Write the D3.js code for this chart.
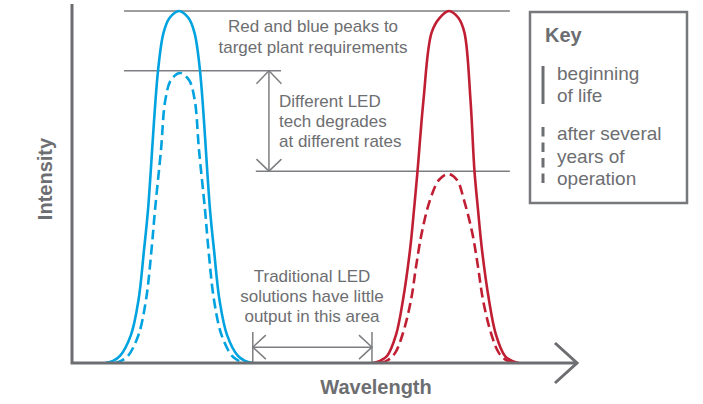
<!DOCTYPE html>
<html>
<head>
<meta charset="utf-8">
<script src="https://cdn.jsdelivr.net/npm/d3@7"></script>
<style>
  body { margin: 0; background: #fff; }
  text { font-family: "Liberation Sans", Arial, sans-serif; fill: #6d6e71; }
</style>
</head>
<body>
<svg id="chart" width="703" height="404"></svg>
<script>
// spectrum curves: [wavelength (arbitrary units), relative intensity]
var blueSolid = [[6.63,0],[8.12,0.6],[9.50,2.0],[11.68,8.0],[13.17,17.9],[14.26,32.1],[15.05,43.5],[17.03,83.0],[18.12,93.8],[19.31,98.0],[21.19,100],
                 [23.07,98.0],[24.26,93.8],[25.35,83.0],[27.33,43.5],[28.12,32.1],[29.21,17.9],[30.69,8.0],[32.87,2.0],[34.26,0.6],[35.74,0]];
var blueDashed = [[8.51,0],[9.70,0.6],[11.09,2.0],[13.17,8.0],[14.65,17.9],[15.74,32.1],[16.44,43.5],[17.62,60.5],[18.48,74.7],[19.60,80.4],[21.39,82.4],
                  [23.17,80.4],[24.30,74.7],[25.15,60.5],[26.34,43.5],[27.03,32.1],[28.12,17.9],[29.60,8.0],[31.68,2.0],[33.07,0.6],[34.26,0]];
var redSolid = [[59.60,0],[60.99,0.6],[62.38,2.0],[64.16,8.0],[65.54,17.9],[66.93,32.1],[67.72,43.5],[68.42,54.5],[69.60,74.7],[71.19,93.8],[72.77,98.0],[74.65,100],
                [76.53,98.0],[77.72,93.8],[78.91,74.7],[79.70,54.5],[80.40,43.5],[81.19,32.1],[82.57,17.9],[83.96,8.0],[85.74,2.0],[87.13,0.6],[88.51,0]];
var redDashed = [[61.19,0],[62.57,0.85],[63.96,2.8],[65.54,8.5],[67.13,17.9],[68.12,27.3],[69.25,36.9],[70.89,46.3],[72.67,52.0],[74.46,53.7],
                 [76.24,52.0],[77.62,46.3],[79.27,36.9],[80.40,27.3],[81.39,17.9],[82.97,8.5],[84.55,2.8],[85.94,0.85],[87.33,0]];

// guide lines: intensity level, wavelength from, wavelength to
var guideLines = [[100, 10.3, 86.7], [83.0, 10.3, 41.4], [54.5, 36.4, 86.7]];
var degradeArrow = [39.0, 83.0, 54.5];      // wavelength, top, bottom
var gapArrow = [35.8, 59.4, 4.5, 8.8];      // from, to, arrow level, tick height

var noteTop = ["Red and blue peaks to", "target plant requirements"];
var noteMid = ["Different LED", "tech degrades", "at different rates"];
var noteLow = ["Traditional LED", "solutions have little", "output in this area"];
var keyLabels = [["beginning", "of life"], ["after several", "years of", "operation"]];

var BLUE = "#00a3e0", RED = "#c01f33", GREY = "#6d6e71", LGREY = "#7d7e81";

var svg = d3.select("#chart");
var x = d3.scaleLinear().domain([0, 100]).range([72, 577]);
var y = d3.scaleLinear().domain([0, 100]).range([363, 11]);

var line = d3.line()
    .x(function(d){ return x(d[0]); })
    .y(function(d){ return y(d[1]); })
    .curve(d3.curveCatmullRom.alpha(0.5));

// guide lines
svg.selectAll(".guide")
    .data(guideLines)
    .enter().append("line")
    .attr("class", "guide")
    .attr("x1", function(d){ return x(d[1]); })
    .attr("x2", function(d){ return x(d[2]); })
    .attr("y1", function(d){ return y(d[0]); })
    .attr("y2", function(d){ return y(d[0]); })
    .attr("stroke", LGREY)
    .attr("stroke-width", 1.5);

function thin(g, d){
    g.append("path").attr("d", d)
        .attr("fill", "none").attr("stroke", LGREY).attr("stroke-width", 1.5);
}

var ann = svg.append("g");
var ax = x(degradeArrow[0]), ay1 = y(degradeArrow[1]), ay2 = y(degradeArrow[2]);
thin(ann, "M" + ax + "," + ay1 + "V" + ay2);
thin(ann, "M" + (ax - 12.5) + "," + (ay1 + 13) + "L" + ax + "," + ay1 + "L" + (ax + 12.5) + "," + (ay1 + 13));
thin(ann, "M" + (ax - 12.5) + "," + (ay2 - 12) + "L" + ax + "," + ay2 + "L" + (ax + 12.5) + "," + (ay2 - 12));

var gx1 = x(gapArrow[0]), gx2 = x(gapArrow[1]), gy = y(gapArrow[2]), gt = y(gapArrow[3]);
thin(ann, "M" + gx1 + "," + gy + "H" + gx2);
thin(ann, "M" + gx1 + "," + gt + "V" + y(0));
thin(ann, "M" + gx2 + "," + gt + "V" + y(0));
thin(ann, "M" + (gx1 + 13) + "," + (gy - 12) + "L" + gx1 + "," + gy + "L" + (gx1 + 13) + "," + (gy + 12));
thin(ann, "M" + (gx2 - 13) + "," + (gy - 12) + "L" + gx2 + "," + gy + "L" + (gx2 - 13) + "," + (gy + 12));

// curves
var curves = [[blueSolid, BLUE, null], [blueDashed, BLUE, "10,5"], [redSolid, RED, null], [redDashed, RED, "10,5"]];
svg.selectAll(".curve")
    .data(curves)
    .enter().append("path")
    .attr("class", "curve")
    .attr("d", function(d){ return line(d[0]); })
    .attr("fill", "none")
    .attr("stroke", function(d){ return d[1]; })
    .attr("stroke-width", 2.6)
    .attr("stroke-dasharray", function(d){ return d[2]; });

// axes
svg.append("path")
    .attr("d", "M" + x(0) + ",4V" + y(0) + "H" + x(100))
    .attr("fill", "none").attr("stroke", GREY).attr("stroke-width", 3);
svg.append("path")
    .attr("d", "M" + (x(100) - 22) + "," + (y(0) - 20) + "L" + x(100) + "," + y(0) + "L" + (x(100) - 22) + "," + (y(0) + 20))
    .attr("fill", "none").attr("stroke", GREY).attr("stroke-width", 3);

svg.append("text")
    .attr("transform", "translate(52,179) rotate(-90)")
    .attr("text-anchor", "middle")
    .style("font-size", "20px").style("font-weight", "bold")
    .text("Intensity");
svg.append("text")
    .attr("x", 376).attr("y", 394)
    .attr("text-anchor", "middle")
    .style("font-size", "20px").style("font-weight", "bold")
    .text("Wavelength");

// notes
function note(lines, tx, ty, anchor, lh){
    svg.append("g").selectAll("text")
        .data(lines)
        .enter().append("text")
        .attr("x", tx)
        .attr("y", function(d, i){ return ty + i * lh; })
        .attr("text-anchor", anchor)
        .style("font-size", "17px")
        .text(function(d){ return d; });
}
note(noteTop, 313, 32, "middle", 20.5);
note(noteMid, 279, 107, "start", 20);
note(noteLow, 312, 282, "middle", 20);

// key
var key = svg.append("g");
key.append("rect")
    .attr("x", 530).attr("y", 12).attr("width", 157).attr("height", 191)
    .attr("fill", "none").attr("stroke", "#77787b").attr("stroke-width", 2.5);
key.append("text").attr("x", 545).attr("y", 42)
    .style("font-size", "20px").style("font-weight", "bold").text("Key");
key.append("line").attr("x1", 543).attr("x2", 543).attr("y1", 66).attr("y2", 104)
    .attr("stroke", GREY).attr("stroke-width", 3);
key.append("line").attr("x1", 543).attr("x2", 543).attr("y1", 127).attr("y2", 185)
    .attr("stroke", GREY).attr("stroke-width", 3).attr("stroke-dasharray", "9.5,6");
var keyY = [[80, 101.5], [140, 162.5, 185]];
keyLabels.forEach(function(ls, k){
    key.selectAll(".k" + k)
        .data(ls)
        .enter().append("text")
        .attr("x", 557)
        .attr("y", function(d, i){ return keyY[k][i]; })
        .style("font-size", "19px")
        .text(function(d){ return d; });
});
</script>
</body>
</html>
